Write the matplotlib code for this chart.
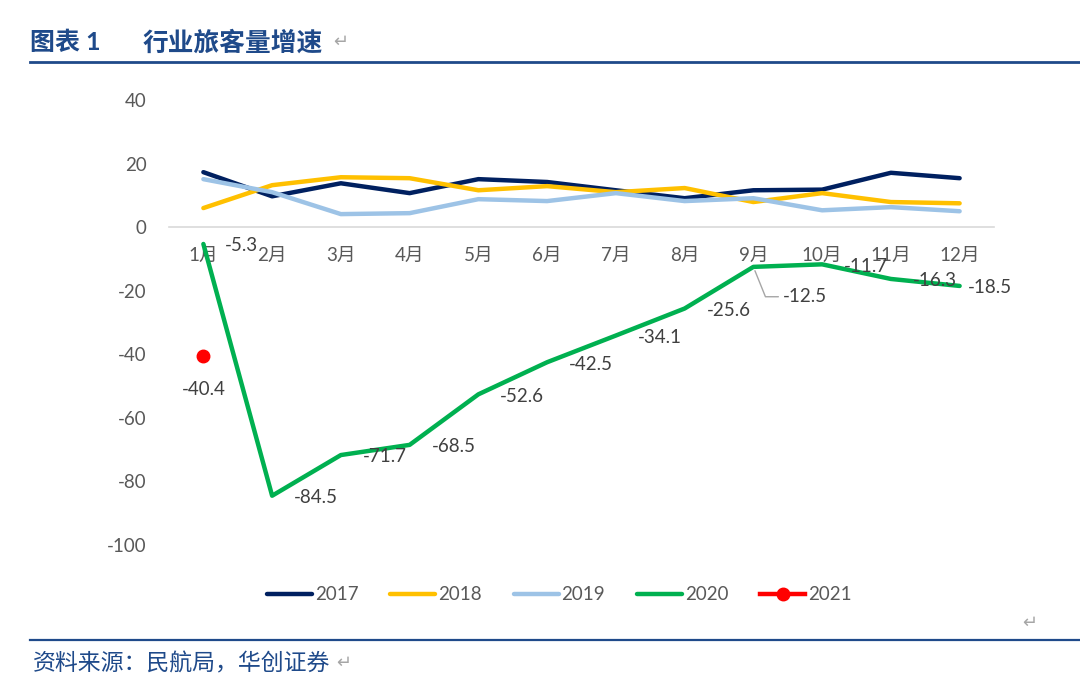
import matplotlib
matplotlib.use("Agg")
import matplotlib.pyplot as plt
from matplotlib.lines import Line2D

plt.rcParams["font.family"] = ["Lato", "Noto Sans CJK SC", "DejaVu Sans"]
plt.rcParams["axes.unicode_minus"] = False

# ---------- данные ----------
months = ["1月", "2月", "3月", "4月", "5月", "6月", "7月", "8月", "9月", "10月", "11月", "12月"]
y2017 = [17.3, 9.7, 13.8, 10.7, 15.1, 14.2, 11.6, 9.1, 11.6, 11.8, 17.1, 15.4]
y2018 = [6.0, 13.2, 15.7, 15.4, 11.6, 12.9, 11.0, 12.3, 7.9, 10.7, 7.9, 7.5]
y2019 = [15.1, 11.0, 4.1, 4.4, 8.8, 8.2, 10.7, 8.2, 9.1, 5.3, 6.3, 5.0]
y2020 = [-5.3, -84.5, -71.7, -68.5, -52.6, -42.5, -34.1, -25.6, -12.5, -11.7, -16.3, -18.5]
y2021 = [-40.4]
yticks = [40, 20, 0, -20, -40, -60, -80, -100]

C2017, C2018, C2019, C2020, C2021 = "#002060", "#FFC000", "#9DC3E6", "#00B050", "#FF0000"
BLUE = "#1F4A8A"
GRAY = "#595959"
FS = 13.5

fig = plt.figure(figsize=(10.8, 6.87), dpi=100)
ax = fig.add_axes([169 / 1080, 1 - 545 / 687, (994 - 169) / 1080, (545 - 100) / 687])

x = list(range(len(months)))
lw = 3.2
ax.plot(x, y2017, color=C2017, lw=lw, solid_capstyle="round", label="2017")
ax.plot(x, y2018, color=C2018, lw=lw, solid_capstyle="round", label="2018")
ax.plot(x, y2019, color=C2019, lw=lw, solid_capstyle="round", label="2019")
ax.plot(x, y2020, color=C2020, lw=lw, solid_capstyle="round", label="2020")
ax.plot(x[:len(y2021)], y2021, color=C2021, lw=lw, marker="o", ms=9, label="2021")

# подписи данных 2020
for i, v in enumerate(y2020):
    if i == 8:
        ax.annotate(f"{v:.1f}", (i, v), xytext=(21, -21.5), textcoords="offset points",
                    ha="left", va="center", fontsize=FS, color="#404040",
                    arrowprops=dict(arrowstyle="-", color="#A6A6A6", lw=1,
                                    relpos=(0, 0.5), shrinkA=1, shrinkB=3,
                                    connectionstyle="angle,angleA=0,angleB=112,rad=0"))
        continue
    dx = 5.8 if i == len(y2020) - 1 else 15.8
    ax.annotate(f"{v:.1f}", (i, v), xytext=(dx, -1.4), textcoords="offset points",
                ha="left", va="center", fontsize=FS, color="#404040")
for i, v in enumerate(y2021):
    ax.annotate(f"{v:.1f}", (i, v), xytext=(0, -24.5), textcoords="offset points",
                ha="center", va="center", fontsize=FS, color="#404040")

ax.set_xlim(-0.5, len(months) - 0.5)
ax.set_ylim(-100, 40)
ax.set_yticks(yticks)
ax.set_xticks(x)
ax.set_xticklabels(months)
ax.tick_params(axis="both", length=0, labelsize=FS, labelcolor=GRAY)
ax.tick_params(axis="y", pad=16)
ax.tick_params(axis="x", pad=14)
for s in ["top", "right", "left"]:
    ax.spines[s].set_visible(False)
ax.spines["bottom"].set_position(("data", 0))
ax.spines["bottom"].set_color("#D9D9D9")
ax.spines["bottom"].set_linewidth(1.2)

# легенда
handles = [Line2D([], [], color=c, lw=lw, solid_capstyle="round") for c in (C2017, C2018, C2019, C2020)]
handles.append(Line2D([], [], color=C2021, lw=lw, marker="o", ms=9))
leg = fig.legend(handles, ["2017", "2018", "2019", "2020", "2021"], loc="center",
                 bbox_to_anchor=(0.518, 1 - 595 / 687), ncol=5, frameon=False,
                 handlelength=2.4, columnspacing=1.7, handletextpad=0.15, fontsize=FS)
for t in leg.get_texts():
    t.set_color(GRAY)

# заголовок и источник
fig.text(30 / 1080, 1 - 42 / 687, "图表 1", fontsize=18, fontweight="bold", color=BLUE,
         ha="left", va="center")
fig.text(143 / 1080, 1 - 42 / 687, "行业旅客量增速", fontsize=18.5, fontweight="bold", color=BLUE,
         ha="left", va="center")
fig.text(333 / 1080, 1 - 42 / 687, "↵", fontsize=13, color="#A6A6A6", ha="left", va="center",
         family=["DejaVu Sans"])
fig.add_artist(Line2D([30 / 1080, 1], [1 - 62 / 687] * 2, color=BLUE, lw=2))
fig.add_artist(Line2D([30 / 1080, 1], [1 - 640 / 687] * 2, color=BLUE, lw=1.6))
fig.text(1022 / 1080, 1 - 623 / 687, "↵", fontsize=13, color="#A6A6A6", ha="left", va="center",
         family=["DejaVu Sans"])
fig.text(33 / 1080, 1 - 663 / 687, "资料来源：民航局，华创证券", fontsize=16.5, color=BLUE,
         ha="left", va="center", style="italic")
fig.text(336 / 1080, 1 - 663 / 687, "↵", fontsize=13, color="#A6A6A6", ha="left", va="center",
         family=["DejaVu Sans"])

fig.savefig("out.png", dpi=100)
